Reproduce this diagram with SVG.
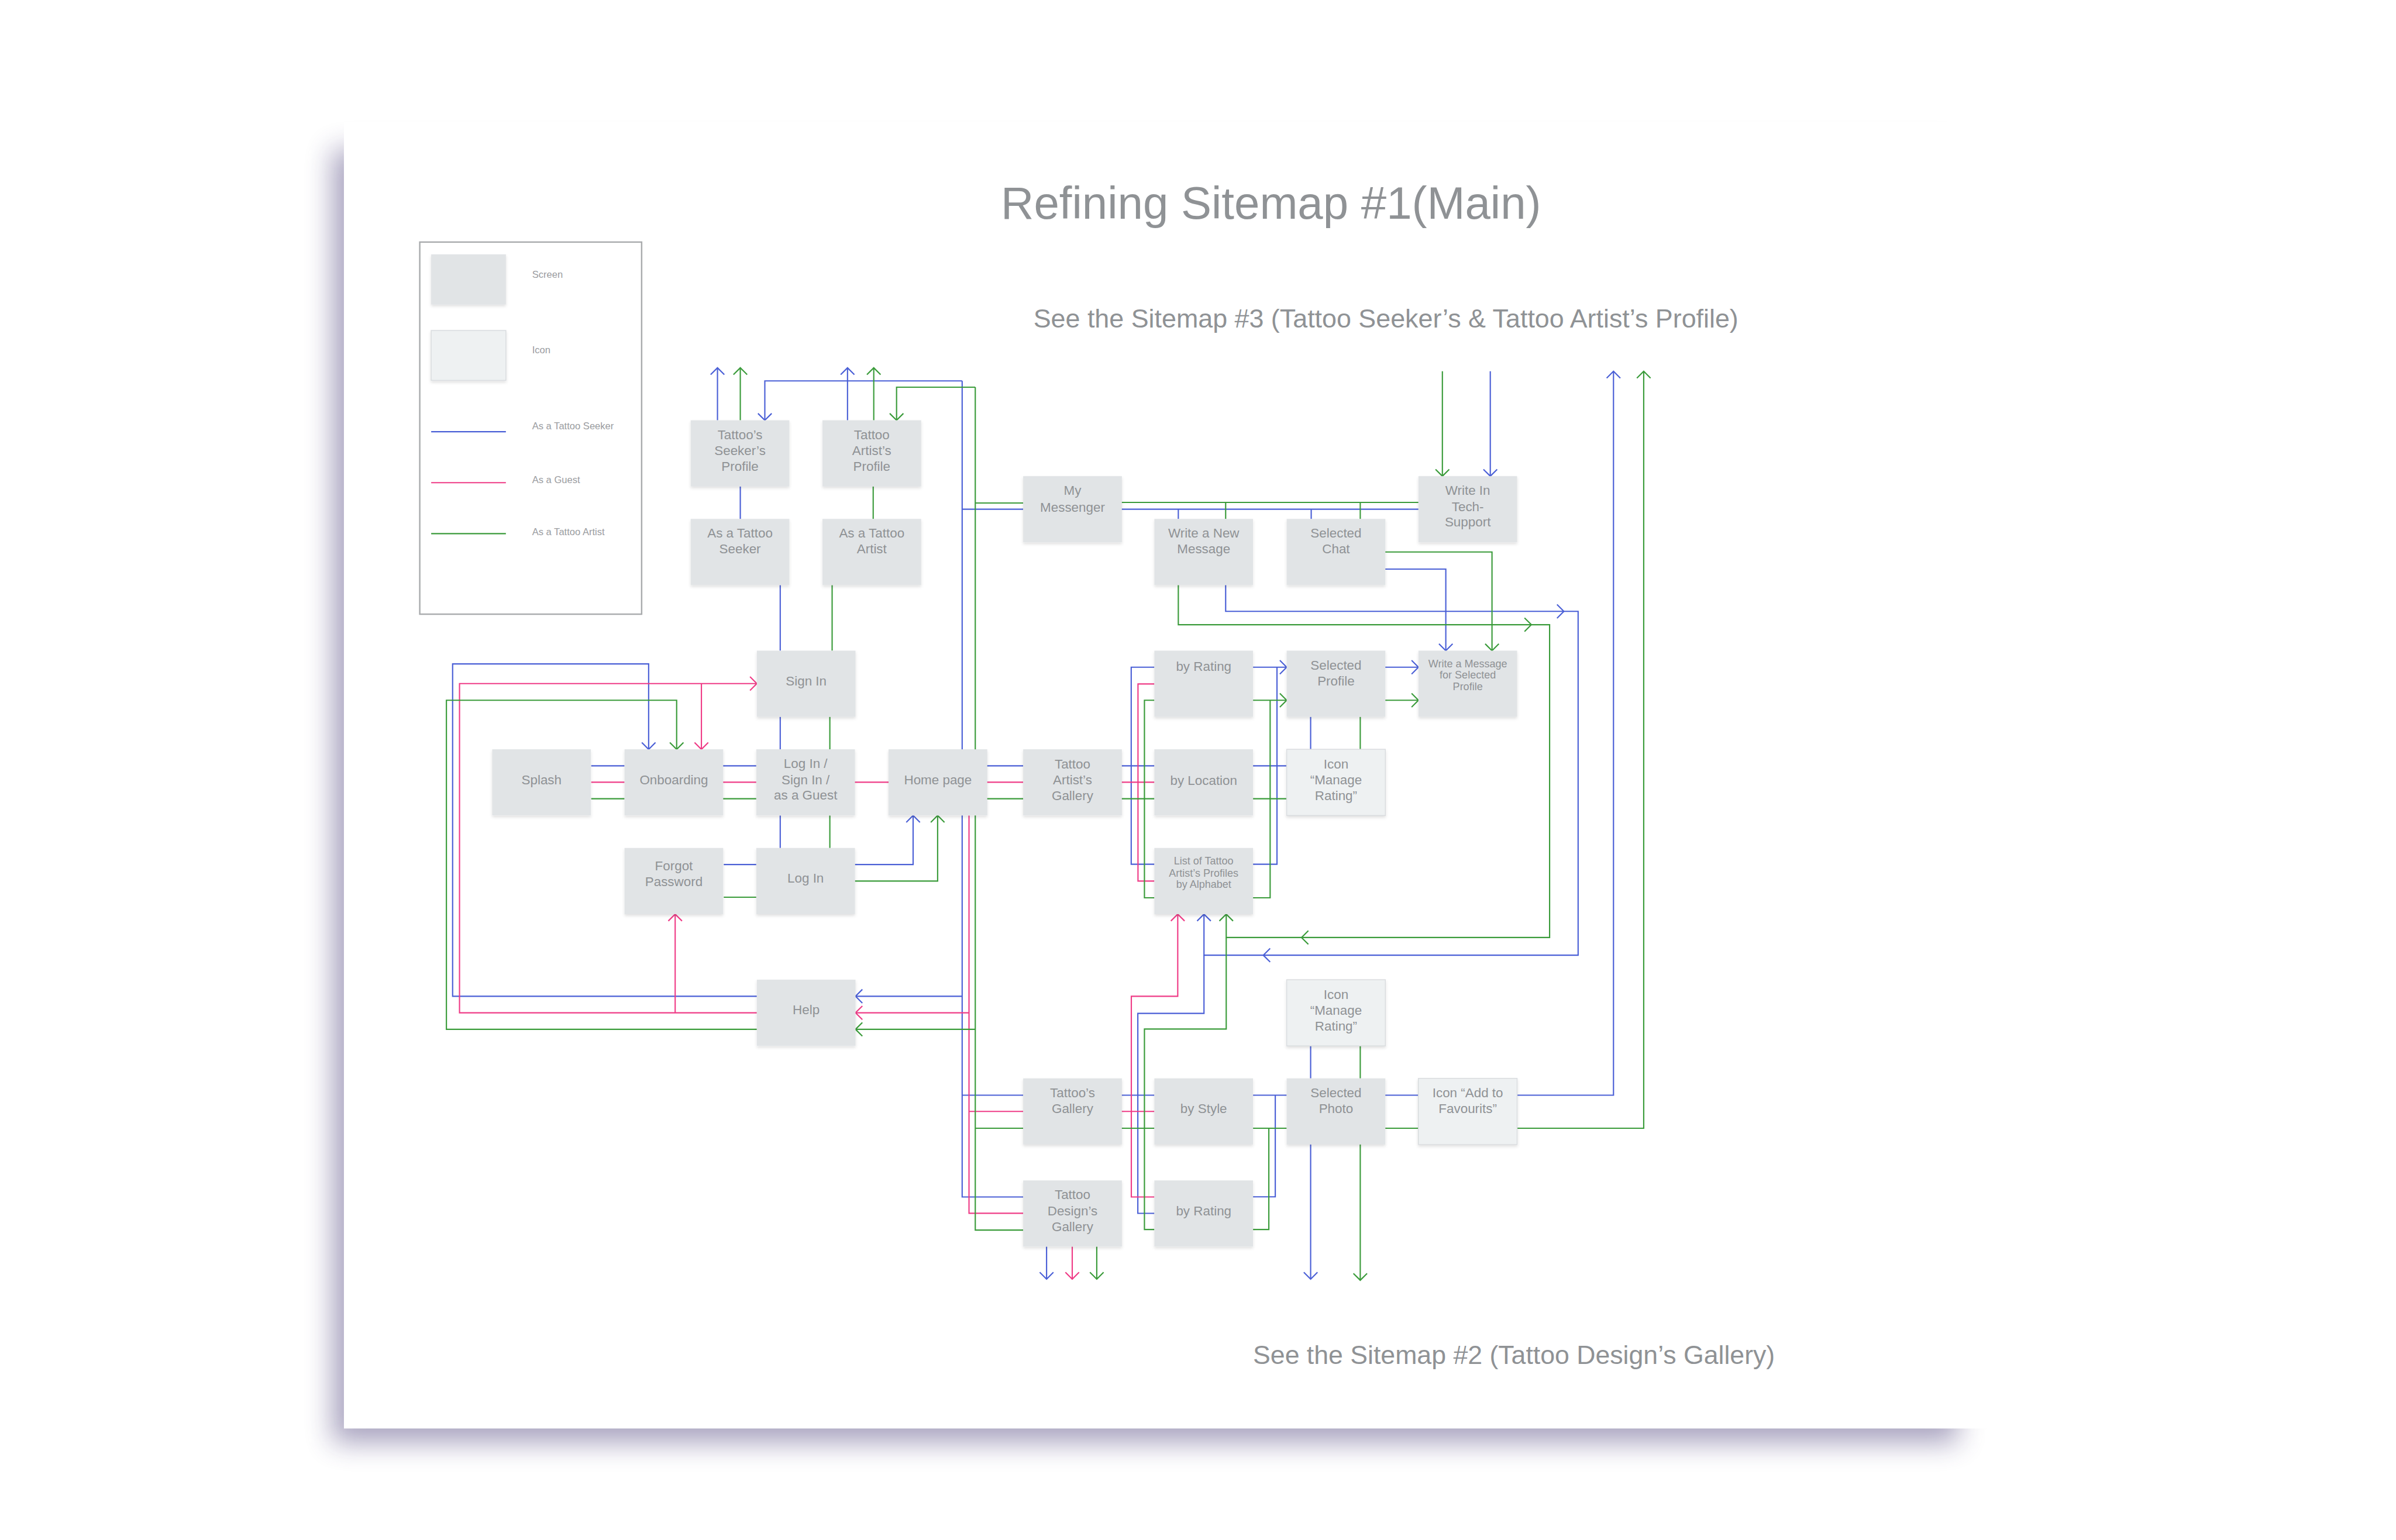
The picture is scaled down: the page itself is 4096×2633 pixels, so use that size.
<svg xmlns="http://www.w3.org/2000/svg" width="4096" height="2633" viewBox="0 0 4096 2633">
<defs>
<style>
.n rect{fill:#e1e4e6}
.n.icon rect{fill:#eef1f2;stroke:#d9dcdf;stroke-width:1.5}
.n text{font-family:"Liberation Sans",Arial,sans-serif;font-size:23px;fill:#8f9295;text-anchor:middle}
.n text.sm{font-size:18.5px}
.c path{fill:none;stroke-width:2.2}
.b{stroke:#4a5fd6}
.p{stroke:#ef3b86}
.g{stroke:#3a9b3a}
.b.e{marker-end:url(#mb)}
.p.e{marker-end:url(#mp)}
.g.e{marker-end:url(#mg)}
.t{font-family:"Liberation Sans",Arial,sans-serif;fill:#8f9295}
.lg{font-family:"Liberation Sans",Arial,sans-serif;font-size:17px;fill:#9a9c9f}
</style>
<filter id="psb" x="-10%" y="-10%" width="120%" height="120%"><feGaussianBlur stdDeviation="24"/></filter>
<filter id="ns" x="-10%" y="-10%" width="120%" height="130%"><feDropShadow dx="0" dy="3" stdDeviation="3" flood-color="#000" flood-opacity="0.12"/></filter>
<marker id="mb" viewBox="-14 -14 16 28" refX="0" refY="0" markerWidth="16" markerHeight="28" orient="auto" markerUnits="userSpaceOnUse"><path d="M-12,-12 L0,0 L-12,12" fill="none" stroke="#4a5fd6" stroke-width="2.2"/></marker>
<marker id="mp" viewBox="-14 -14 16 28" refX="0" refY="0" markerWidth="16" markerHeight="28" orient="auto" markerUnits="userSpaceOnUse"><path d="M-12,-12 L0,0 L-12,12" fill="none" stroke="#ef3b86" stroke-width="2.2"/></marker>
<marker id="mg" viewBox="-14 -14 16 28" refX="0" refY="0" markerWidth="16" markerHeight="28" orient="auto" markerUnits="userSpaceOnUse"><path d="M-12,-12 L0,0 L-12,12" fill="none" stroke="#3a9b3a" stroke-width="2.2"/></marker>
</defs>
<rect width="4096" height="2633" fill="#fff"/>
<g transform="scale(0.975)">
<rect x="583" y="262" width="2850" height="2268" fill="#4b3f7a" opacity="0.48" filter="url(#psb)"/>
<rect x="603" y="214" width="2893" height="2291" fill="#fff"/>

<g id="legend">
<rect x="736" y="424.5" width="389" height="652.5" fill="none" stroke="#a9abad" stroke-width="2.5"/>
<rect x="756" y="446" width="131" height="88" fill="#e1e4e6" filter="url(#ns)"/>
<rect x="756" y="579.5" width="131" height="87.5" fill="#eef1f2" stroke="#d9dcdf" stroke-width="1.5" filter="url(#ns)"/>
<path d="M756,757 H887" stroke="#4a5fd6" stroke-width="2.2"/>
<path d="M756,846.4 H887" stroke="#ef3b86" stroke-width="2.2"/>
<path d="M756,935.7 H887" stroke="#3a9b3a" stroke-width="2.2"/>
<text class="lg" x="933" y="487">Screen</text>
<text class="lg" x="933" y="620">Icon</text>
<text class="lg" x="933" y="753">As a Tattoo Seeker</text>
<text class="lg" x="933" y="847">As a Guest</text>
<text class="lg" x="933" y="938">As a Tattoo Artist</text>
</g>

<text class="t" x="1755" y="384" font-size="80">Refining Sitemap #1(Main)</text>
<text class="t" x="1812" y="574" font-size="45.5" textLength="1236" lengthAdjust="spacingAndGlyphs">See the Sitemap #3 (Tattoo Seeker’s &amp; Tattoo Artist’s Profile)</text>
<text class="t" x="2197" y="2392" font-size="45.5" textLength="915" lengthAdjust="spacingAndGlyphs">See the Sitemap #2 (Tattoo Design’s Gallery)</text>

<g id="connectors" class="c">
<!-- blue -->
<path class="b e" d="M1258,737 V645"/>
<path class="b e" d="M1486,737 V645"/>
<path class="b e" d="M1687,668 H1341 V737"/>
<path class="b" d="M1687,668 V2099 H1794"/>
<path class="b" d="M1687,893 H1794"/>
<path class="b e" d="M1687,1747 H1500"/>
<path class="b" d="M1687,1920.5 H1794"/>
<path class="b" d="M1298,853 V910"/>
<path class="b" d="M1368,1026 V1141"/>
<path class="b" d="M1368,1257 V1314"/>
<path class="b" d="M1368,1430 V1487"/>
<path class="b" d="M1966,893 H2487"/>
<path class="b" d="M2066,893 V910"/>
<path class="b" d="M2299,893 V910"/>
<path class="b e" d="M2613,651 V835"/>
<path class="b e" d="M2149,1026 V1072 H2767 V1675 H2111 V1603"/>
<path class="b e" d="M2428,998 H2535 V1141"/>
<path class="b" d="M1036.6,1343 H1095 M1267,1343 H1326 M1730,1343 H1794 M1966,1343 H2024 M2197,1343 H2256"/>
<path class="b" d="M2024,1170 H1983.4 V1515.5 H2024"/>
<path class="b e" d="M2197,1170 H2256"/>
<path class="b" d="M2197,1515.5 H2239 V1170"/>
<path class="b e" d="M2428,1170 H2487"/>
<path class="b" d="M2298,1257 V1314"/>
<path class="b e" d="M1327,1747 H793.6 V1164.3 H1137.3 V1314"/>
<path class="b e" d="M1499,1516 H1601 V1430"/>
<path class="b" d="M1269,1516 H1326"/>
<path class="b" d="M2024,2127.7 H1995 V1777 H2111 V1675"/>
<path class="b" d="M1966,1920.5 H2024"/>
<path class="b" d="M2197,1920.5 H2256"/>
<path class="b" d="M2197,2098.7 H2236 V1920.5"/>
<path class="b" d="M2428,1920.5 H2487"/>
<path class="b e" d="M2660,1920.5 H2829 V651"/>
<path class="b" d="M2298,1833 V1891"/>
<path class="b e" d="M2298,2006 V2243"/>
<path class="b e" d="M1835,2186 V2243"/>
<path class="b" d="M2730,1060 L2742,1072 L2730,1084"/>
<path class="b" d="M2227,1663 L2215,1675 L2227,1687"/>
<!-- pink -->
<path class="p" d="M1699,1430 V2127.5 H1794"/>
<path class="p" d="M1699,1949 H1794"/>
<path class="p e" d="M1699,1776 H1500"/>
<path class="p" d="M1036.6,1371.7 H1095 M1267,1371.7 H1326 M1498,1371.7 H1558 M1730,1371.7 H1794 M1966,1371.7 H2024"/>
<path class="p" d="M2024,1199.4 H1995.3 V1545 H2024"/>
<path class="p e" d="M1327,1776 H805.7 V1198.7 H1327"/>
<path class="p e" d="M1229.8,1198.7 V1314"/>
<path class="p e" d="M1183.8,1776 V1603"/>
<path class="p e" d="M2024,2099 H1983.6 V1747 H2065 V1603"/>
<path class="p" d="M1966,1949 H2024"/>
<path class="p e" d="M1880,2186 V2243"/>
<!-- green -->
<path class="g e" d="M1298,737 V645"/>
<path class="g e" d="M1532,737 V645"/>
<path class="g e" d="M1710,679 H1572 V737"/>
<path class="g" d="M1710,679 V2157 H1794"/>
<path class="g" d="M1710,882 H1794"/>
<path class="g e" d="M1710,1805 H1500"/>
<path class="g" d="M1710,1978.5 H1794"/>
<path class="g" d="M1531,853 V910"/>
<path class="g" d="M1459,1026 V1141"/>
<path class="g" d="M1455,1257 V1314"/>
<path class="g" d="M1455,1430 V1487"/>
<path class="g" d="M1966,881 H2487"/>
<path class="g" d="M2149,881 V910"/>
<path class="g" d="M2385,881 V910"/>
<path class="g e" d="M2529,651 V835"/>
<path class="g e" d="M2066,1026 V1095.5 H2717 V1644 H2150 V1603"/>
<path class="g e" d="M2428,968 H2616 V1141"/>
<path class="g" d="M1036.6,1400.7 H1095 M1267,1400.7 H1326 M1730,1400.7 H1794 M1966,1400.7 H2024 M2197,1400.7 H2256"/>
<path class="g" d="M2024,1228 H2006.6 V1574.4 H2024"/>
<path class="g e" d="M2197,1228 H2256"/>
<path class="g" d="M2197,1574.4 H2227 V1228"/>
<path class="g e" d="M2428,1228 H2487"/>
<path class="g" d="M2385,1257 V1314"/>
<path class="g e" d="M1327,1805 H782.7 V1228 H1186.4 V1314"/>
<path class="g e" d="M1499,1545 H1644 V1430"/>
<path class="g" d="M1269,1573.3 H1326"/>
<path class="g" d="M2024,2156 H2006.6 V1804.5 H2150 V1644"/>
<path class="g" d="M1966,1978.5 H2024"/>
<path class="g" d="M2197,1978.5 H2256"/>
<path class="g" d="M2197,2156 H2224.7 V1978.5"/>
<path class="g" d="M2428,1978.5 H2487"/>
<path class="g e" d="M2660,1978.5 H2882 V651"/>
<path class="g" d="M2385,1833 V1891"/>
<path class="g e" d="M2385,2006 V2245"/>
<path class="g e" d="M1923,2186 V2243"/>
<path class="g" d="M2673,1083.5 L2685,1095.5 L2673,1107.5"/>
<path class="g" d="M2294,1632 L2282,1644 L2294,1656"/>
</g>

<g id="n-seeker-profile" class="n"><rect x="1211" y="737" width="173" height="116" filter="url(#ns)"/><text><tspan x="1297.5" y="770">Tattoo’s</tspan><tspan x="1297.5" y="798">Seeker’s</tspan><tspan x="1297.5" y="826">Profile</tspan></text></g>
<g id="n-artist-profile" class="n"><rect x="1442" y="737" width="173" height="116" filter="url(#ns)"/><text><tspan x="1528.5" y="770">Tattoo</tspan><tspan x="1528.5" y="798">Artist’s</tspan><tspan x="1528.5" y="826">Profile</tspan></text></g>
<g id="n-as-seeker" class="n"><rect x="1211" y="910" width="173" height="116" filter="url(#ns)"/><text><tspan x="1297.5" y="943">As a Tattoo</tspan><tspan x="1297.5" y="970">Seeker</tspan></text></g>
<g id="n-as-artist" class="n"><rect x="1442" y="910" width="173" height="116" filter="url(#ns)"/><text><tspan x="1528.5" y="943">As a Tattoo</tspan><tspan x="1528.5" y="970">Artist</tspan></text></g>
<g id="n-messenger" class="n"><rect x="1794" y="835" width="173" height="116" filter="url(#ns)"/><text><tspan x="1880.5" y="868">My</tspan><tspan x="1880.5" y="897">Messenger</tspan></text></g>
<g id="n-write-new" class="n"><rect x="2024" y="910" width="173" height="116" filter="url(#ns)"/><text><tspan x="2110.5" y="943">Write a New</tspan><tspan x="2110.5" y="970">Message</tspan></text></g>
<g id="n-selected-chat" class="n"><rect x="2256" y="910" width="173" height="116" filter="url(#ns)"/><text><tspan x="2342.5" y="943">Selected</tspan><tspan x="2342.5" y="970">Chat</tspan></text></g>
<g id="n-tech-support" class="n"><rect x="2487" y="835" width="173" height="116" filter="url(#ns)"/><text><tspan x="2573.5" y="868">Write In</tspan><tspan x="2573.5" y="896">Tech-</tspan><tspan x="2573.5" y="923">Support</tspan></text></g>
<g id="n-sign-in" class="n"><rect x="1327" y="1141" width="173" height="116" filter="url(#ns)"/><text><tspan x="1413.5" y="1202">Sign In</tspan></text></g>
<g id="n-splash" class="n"><rect x="863" y="1314" width="173" height="116" filter="url(#ns)"/><text><tspan x="949.5" y="1375">Splash</tspan></text></g>
<g id="n-onboarding" class="n"><rect x="1095" y="1314" width="173" height="116" filter="url(#ns)"/><text><tspan x="1181.5" y="1375">Onboarding</tspan></text></g>
<g id="n-login-signin-guest" class="n"><rect x="1326" y="1314" width="173" height="116" filter="url(#ns)"/><text><tspan x="1412.5" y="1347">Log In /</tspan><tspan x="1412.5" y="1375">Sign In /</tspan><tspan x="1412.5" y="1402">as a Guest</tspan></text></g>
<g id="n-home" class="n"><rect x="1558" y="1314" width="173" height="116" filter="url(#ns)"/><text><tspan x="1644.5" y="1375">Home page</tspan></text></g>
<g id="n-artist-gallery" class="n"><rect x="1794" y="1314" width="173" height="116" filter="url(#ns)"/><text><tspan x="1880.5" y="1348">Tattoo</tspan><tspan x="1880.5" y="1375">Artist’s</tspan><tspan x="1880.5" y="1403">Gallery</tspan></text></g>
<g id="n-by-rating-1" class="n"><rect x="2024" y="1141" width="173" height="116" filter="url(#ns)"/><text><tspan x="2110.5" y="1176">by Rating</tspan></text></g>
<g id="n-selected-profile" class="n"><rect x="2256" y="1141" width="173" height="116" filter="url(#ns)"/><text><tspan x="2342.5" y="1174">Selected</tspan><tspan x="2342.5" y="1202">Profile</tspan></text></g>
<g id="n-write-msg-profile" class="n"><rect x="2487" y="1141" width="173" height="116" filter="url(#ns)"/><text class="sm"><tspan x="2573.5" y="1170">Write a Message</tspan><tspan x="2573.5" y="1190">for Selected</tspan><tspan x="2573.5" y="1210">Profile</tspan></text></g>
<g id="n-by-location" class="n"><rect x="2024" y="1314" width="173" height="116" filter="url(#ns)"/><text><tspan x="2110.5" y="1376">by Location</tspan></text></g>
<g id="n-icon-manage-1" class="n icon"><rect x="2256" y="1314" width="173" height="116" filter="url(#ns)"/><text><tspan x="2342.5" y="1348">Icon</tspan><tspan x="2342.5" y="1375">“Manage</tspan><tspan x="2342.5" y="1403">Rating”</tspan></text></g>
<g id="n-list-alpha" class="n"><rect x="2024" y="1487" width="173" height="116" filter="url(#ns)"/><text class="sm"><tspan x="2110.5" y="1516">List of Tattoo</tspan><tspan x="2110.5" y="1537">Artist’s Profiles</tspan><tspan x="2110.5" y="1557">by Alphabet</tspan></text></g>
<g id="n-forgot" class="n"><rect x="1095" y="1487" width="173" height="116" filter="url(#ns)"/><text><tspan x="1181.5" y="1526">Forgot</tspan><tspan x="1181.5" y="1554">Password</tspan></text></g>
<g id="n-login" class="n"><rect x="1326" y="1487" width="173" height="116" filter="url(#ns)"/><text><tspan x="1412.5" y="1548">Log In</tspan></text></g>
<g id="n-help" class="n"><rect x="1327" y="1718" width="173" height="116" filter="url(#ns)"/><text><tspan x="1413.5" y="1778">Help</tspan></text></g>
<g id="n-icon-manage-2" class="n icon"><rect x="2256" y="1718" width="173" height="116" filter="url(#ns)"/><text><tspan x="2342.5" y="1752">Icon</tspan><tspan x="2342.5" y="1779">“Manage</tspan><tspan x="2342.5" y="1807">Rating”</tspan></text></g>
<g id="n-tattoos-gallery" class="n"><rect x="1794" y="1891" width="173" height="116" filter="url(#ns)"/><text><tspan x="1880.5" y="1924">Tattoo’s</tspan><tspan x="1880.5" y="1952">Gallery</tspan></text></g>
<g id="n-by-style" class="n"><rect x="2024" y="1891" width="173" height="116" filter="url(#ns)"/><text><tspan x="2110.5" y="1952">by Style</tspan></text></g>
<g id="n-selected-photo" class="n"><rect x="2256" y="1891" width="173" height="116" filter="url(#ns)"/><text><tspan x="2342.5" y="1924">Selected</tspan><tspan x="2342.5" y="1952">Photo</tspan></text></g>
<g id="n-icon-fav" class="n icon"><rect x="2487" y="1891" width="173" height="116" filter="url(#ns)"/><text><tspan x="2573.5" y="1924">Icon “Add to</tspan><tspan x="2573.5" y="1952">Favourits”</tspan></text></g>
<g id="n-design-gallery" class="n"><rect x="1794" y="2070" width="173" height="116" filter="url(#ns)"/><text><tspan x="1880.5" y="2103">Tattoo</tspan><tspan x="1880.5" y="2131">Design’s</tspan><tspan x="1880.5" y="2159">Gallery</tspan></text></g>
<g id="n-by-rating-2" class="n"><rect x="2024" y="2070" width="173" height="116" filter="url(#ns)"/><text><tspan x="2110.5" y="2131">by Rating</tspan></text></g>
</g>
</svg>
